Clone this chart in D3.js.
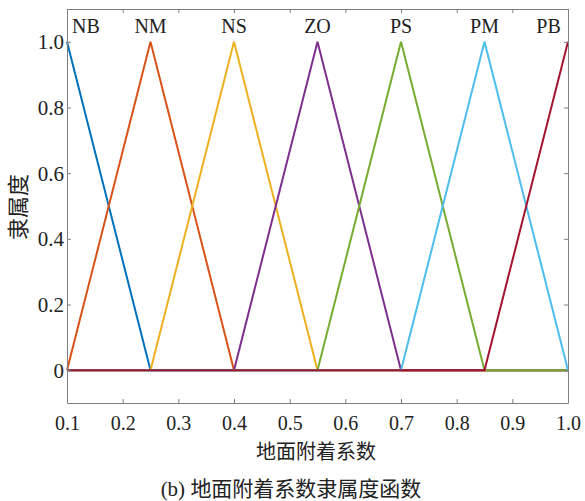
<!DOCTYPE html>
<html>
<head>
<meta charset="utf-8">
<script src="https://cdn.jsdelivr.net/npm/d3@7"></script>
<style>
  body { margin: 0; background: #fff; }
  text { fill: #222; }
</style>
</head>
<body>
<script>
// 隶属度函数の折れ点
var xs = [0.1, 0.25, 0.4, 0.55, 0.7, 0.85, 1.0];
var names = ["NB", "NM", "NS", "ZO", "PS", "PM", "PB"];
var colors = ["#0072BD", "#D95319", "#EDB120", "#7E2F8E", "#77AC30", "#4DBEEE", "#A2142F"];
var nb = [1, 0, 0, 0, 0, 0, 0];
var nm = [0, 1, 0, 0, 0, 0, 0];
var ns = [0, 0, 1, 0, 0, 0, 0];
var zo = [0, 0, 0, 1, 0, 0, 0];
var ps = [0, 0, 0, 0, 1, 0, 0];
var pm = [0, 0, 0, 0, 0, 1, 0];
var pb = [0, 0, 0, 0, 0, 0, 1];
var labelX = [0.134, 0.25, 0.4, 0.55, 0.7, 0.85, 0.965];
var xTicks = [0.1, 0.2, 0.3, 0.4, 0.5, 0.6, 0.7, 0.8, 0.9, 1.0];
var yTicks = [0, 0.2, 0.4, 0.6, 0.8, 1.0];

var w = 585;
var h = 501;
var padL = 67, padR = 568, padT = 9, padB = 403;
var serif = "'Liberation Serif', 'Times New Roman', serif";
var cjk = "'Noto Sans CJK SC', sans-serif";

var x = d3.scaleLinear().domain([0.1, 1.0]).range([padL, padR]);
var y = d3.scaleLinear().domain([-0.1, 1.1]).range([padB, padT]);

var svg = d3.select("body")
            .append("svg")
            .attr("width", w)
            .attr("height", h);

var series = [nb, nm, ns, zo, ps, pm, pb];

var line = d3.line()
    .x(function(d, i) { return x(xs[i]); })
    .y(function(d) { return y(d); });

svg.selectAll("path.mf")
   .data(series)
   .enter()
   .append("path")
   .attr("class", "mf")
   .attr("d", line)
   .attr("fill", "none")
   .attr("stroke", function(d, i) { return colors[i]; })
   .attr("stroke-width", 2)
   .attr("stroke-linejoin", "miter");

// 枠と目盛
var frame = "#808080";
svg.append("g")
   .attr("transform", "translate(0," + padB + ")")
   .call(d3.axisBottom(x).tickValues(xTicks).tickSizeInner(-4).tickSizeOuter(0).tickFormat(d3.format(".1f")))
   .call(function(g) {
     g.select(".domain").attr("stroke", frame);
     g.selectAll(".tick line").attr("stroke", frame);
     g.selectAll(".tick text").attr("dy", 0).attr("y", 27)
      .style("font-family", serif).style("font-size", "20px").attr("fill", "#222");
   });

svg.append("g")
   .attr("transform", "translate(0," + padT + ")")
   .call(d3.axisTop(x).tickValues(xTicks).tickSizeInner(-4).tickSizeOuter(0).tickFormat(""))
   .call(function(g) {
     g.select(".domain").attr("stroke", frame);
     g.selectAll(".tick line").attr("stroke", frame);
   });

svg.append("g")
   .attr("transform", "translate(" + padL + ",0)")
   .call(d3.axisLeft(y).tickValues(yTicks).tickSizeInner(-4).tickSizeOuter(0)
     .tickFormat(function(d) { return d === 0 ? "0" : d.toFixed(1); }))
   .call(function(g) {
     g.select(".domain").attr("stroke", frame);
     g.selectAll(".tick line").attr("stroke", frame);
     g.selectAll(".tick text").attr("x", -3).attr("dy", "0.34em")
      .style("font-family", serif).style("font-size", "21px").attr("fill", "#222");
   });

svg.append("g")
   .attr("transform", "translate(" + padR + ",0)")
   .call(d3.axisRight(y).tickValues(yTicks).tickSizeInner(-4).tickSizeOuter(0).tickFormat(""))
   .call(function(g) {
     g.select(".domain").attr("stroke", frame);
     g.selectAll(".tick line").attr("stroke", frame);
   });

// 名前
svg.selectAll("text.name")
   .data(names)
   .enter()
   .append("text")
   .attr("class", "name")
   .text(function(d) { return d; })
   .attr("x", function(d, i) { return x(labelX[i]); })
   .attr("y", 33)
   .attr("text-anchor", "middle")
   .style("font-family", serif)
   .style("font-size", "20px");

svg.append("text")
   .text("地面附着系数")
   .attr("x", 316)
   .attr("y", 459)
   .attr("text-anchor", "middle")
   .style("font-family", cjk)
   .style("font-size", "20px");

svg.append("text")
   .text("隶属度")
   .attr("transform", "translate(26,207) rotate(-90)")
   .attr("text-anchor", "middle")
   .style("font-family", cjk)
   .style("font-size", "22px");

svg.append("text")
   .attr("x", 291)
   .attr("y", 496)
   .attr("text-anchor", "middle")
   .style("font-size", "21px")
   .call(function(t) {
     t.append("tspan").text("(b) ").style("font-family", serif);
     t.append("tspan").text("地面附着系数隶属度函数").style("font-family", cjk);
   });
</script>
</body>
</html>
